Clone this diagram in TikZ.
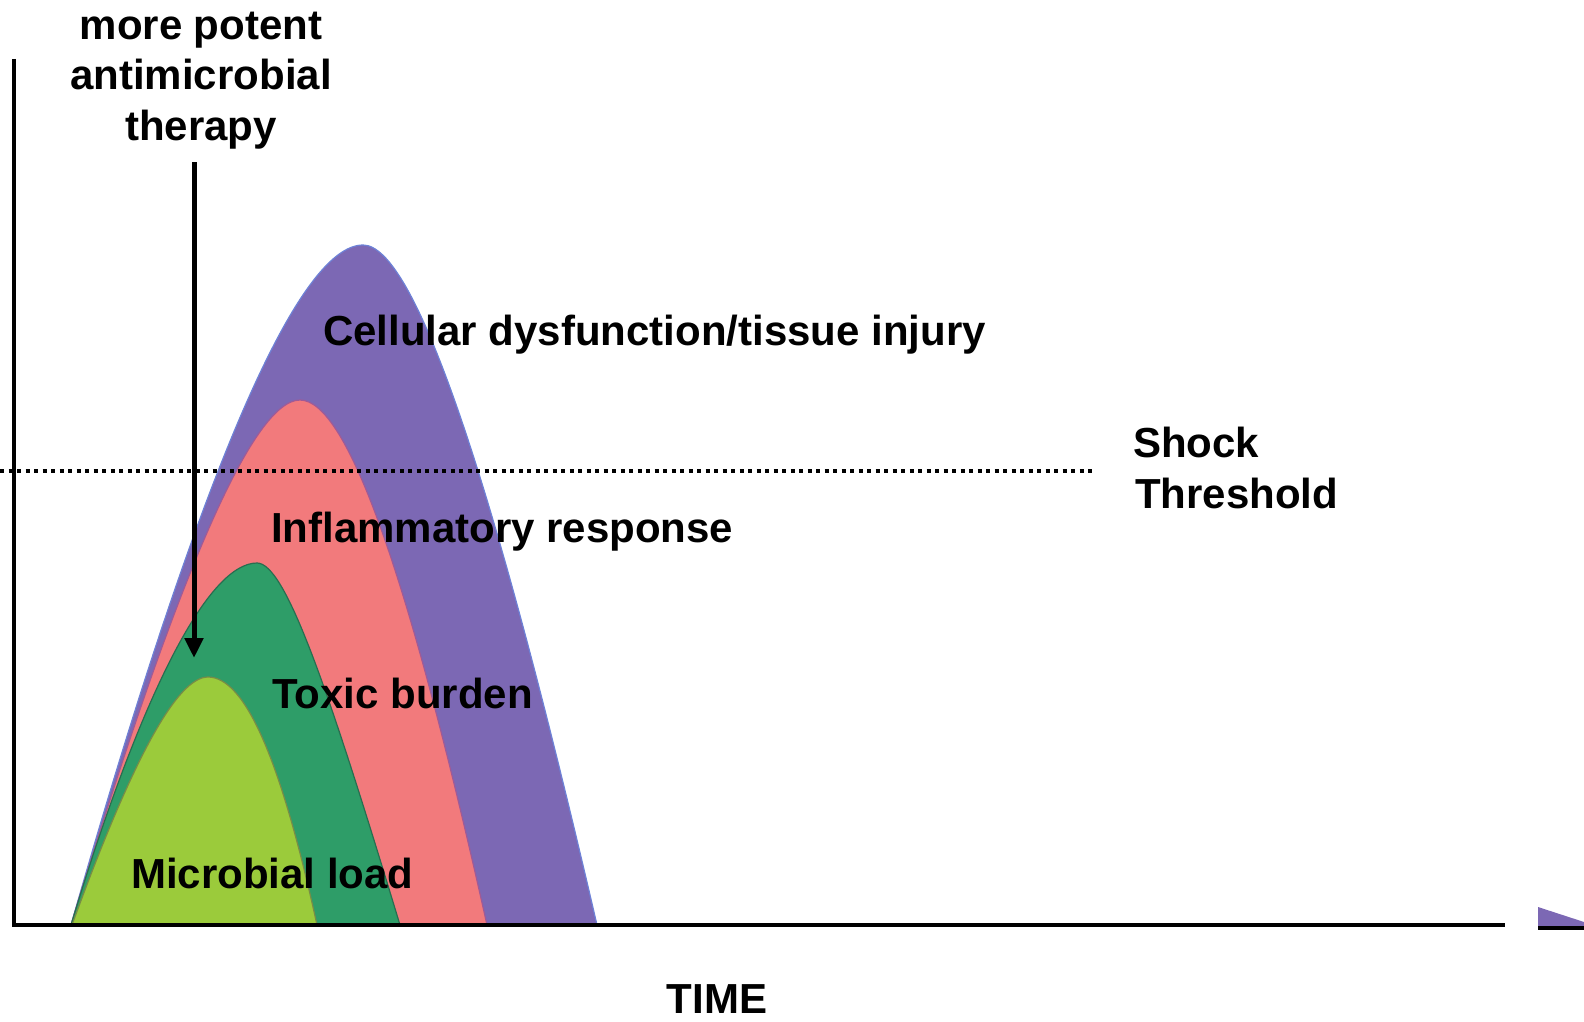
\documentclass[tikz,border=0pt]{standalone}
\usepackage{fontspec}
\setmainfont{Liberation Sans}
\usetikzlibrary{arrows.meta}
\definecolor{cellpurple}{RGB}{124,104,180}
\definecolor{celledge}{RGB}{110,130,215}
\definecolor{inflpink}{RGB}{242,122,124}
\definecolor{infledge}{RGB}{160,90,150}
\definecolor{toxgreen}{RGB}{46,157,104}
\definecolor{toxedge}{RGB}{40,110,80}
\definecolor{microgreen}{RGB}{155,203,59}
\definecolor{microedge}{RGB}{120,140,70}
\begin{document}
\begin{tikzpicture}[x=1pt,y=-1pt,
  lbl/.style={font=\fontsize{42}{50}\selectfont\bfseries, inner sep=0pt, anchor=base west},
  clbl/.style={lbl, anchor=base},
  axisline/.style={line width=4.5pt, black},
  hump/.style={line width=1.2pt}]
\useasboundingbox (0,0) rectangle (1584,1022);
% humps
\filldraw[hump, fill=cellpurple, draw=celledge] (71,925) .. controls (200,472) and (298,245) .. (363,245) .. controls (414,245) and (492,472) .. (597,925) -- cycle;
\filldraw[hump, fill=inflpink, draw=infledge] (71,925) .. controls (177,575) and (253,400) .. (300,400) .. controls (347,400) and (409,575) .. (487,925) -- cycle;
\filldraw[hump, fill=toxgreen, draw=toxedge] (71,925) .. controls (144,684) and (210,563) .. (257,563) .. controls (285,563) and (327,684) .. (400,925) -- cycle;
\filldraw[hump, fill=microgreen, draw=microedge] (72,925) .. controls (132,760) and (177,677) .. (208,677) .. controls (245,677) and (281,760) .. (317,925) -- cycle;
% shock threshold
\node[lbl] (shock) at (1133,457) {Shock};
\node[lbl] (threshold) at (1135,508) {Threshold};
\coordinate (dotstart) at (0,471);
\coordinate (dotend) at (1095,471);
\draw[line width=4pt, dash pattern=on 4pt off 4.5pt] (dotstart) -- (dotend);
% axes
\coordinate (origin) at (14,925);
\coordinate (ytop) at (14,59);
\coordinate (xend) at (1505,925);
\draw[axisline] (ytop) -- (origin) -- (xend);
% stray fragment at right edge
\fill[cellpurple] (1538,907) -- (1584,922) -- (1584,926) -- (1538,926) -- cycle;
\draw[axisline] (1538,928) -- (1584,928);
% therapy arrow
\node[clbl] (more) at (201,40) {more potent};
\node[clbl] (anti) at (201,90) {antimicrobial};
\node[clbl] (therapy) at (201,140) {therapy};
\coordinate (arrstart) at (194,162);
\coordinate (arrtip) at (194,658);
\draw[line width=5pt, -{Triangle[width=18pt,length=20pt]}] (arrstart) -- (arrtip);
% labels
\node[lbl] (cell) at (323,345) {Cellular dysfunction/tissue injury};
\node[lbl] (infl) at (271,542) {Inflammatory response};
\node[lbl] (tox) at (272,708) {Toxic burden};
\node[lbl] (micro) at (131,888) {Microbial load};
\node[clbl] (time) at (717,1013) {TIME};
\end{tikzpicture}
\end{document}
